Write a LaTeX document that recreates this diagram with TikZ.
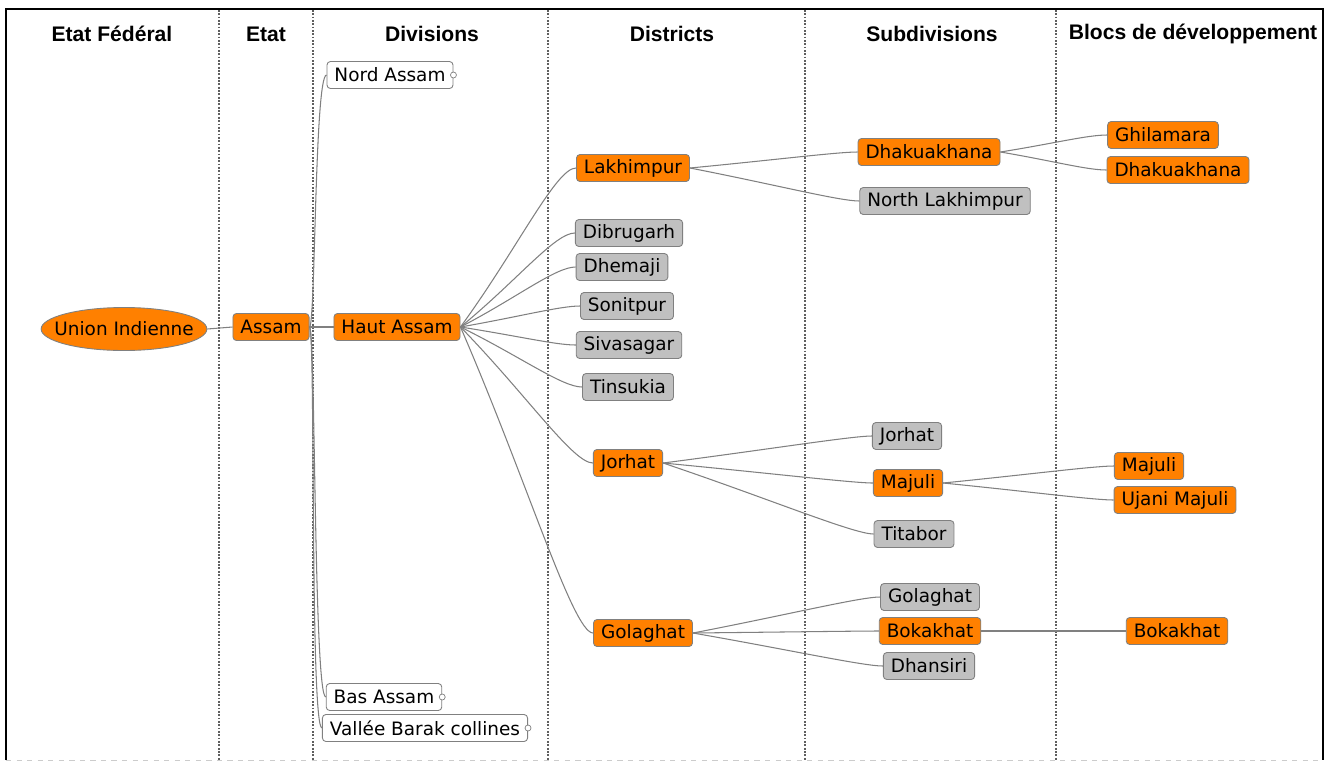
\documentclass[tikz,border=0pt]{standalone}
\usepackage{fontspec}
\setmainfont{DejaVu Sans}
\newfontfamily\headfont{Liberation Sans}
\usetikzlibrary{shapes.geometric,calc}

\definecolor{mmorange}{RGB}{255,128,0}
\definecolor{mmgray}{RGB}{192,192,192}
\definecolor{linkgray}{RGB}{128,128,128}
\definecolor{sepgray}{RGB}{95,95,95}

\tikzset{
  box/.style={draw=linkgray, line width=0.5pt, rounded corners=2pt, minimum height=0.54cm,
    inner xsep=0.15cm, inner ysep=0pt, text=black, font=\fontsize{10.5}{12}\selectfont},
  hot/.style={box, fill=mmorange},
  cold/.style={box, fill=mmgray},
  blank/.style={box, fill=white},
  head/.style={font=\headfont\bfseries\fontsize{12}{14}\selectfont},
  link/.style={draw=linkgray, line width=0.6pt},
  branch/.style={to path={.. controls ($(\tikztostart)!0.5!(\tikztotarget)$) and ($(\tikztotarget)+(-20,0)$) .. (\tikztotarget)}},
  rise/.style={to path={.. controls +(6,0) and +(-12,0) .. (\tikztotarget)}},
  fold/.style={draw=linkgray, fill=white, line width=0.4pt},
  colsep/.style={draw=sepgray, line width=1.2pt, dash pattern=on 1pt off 0.9pt}
}

\begin{document}
\begin{tikzpicture}[x=0.02cm, y=-0.02cm]
\useasboundingbox (0,0) rectangle (1327,761);

% frame and column separators
\draw[line width=1.2pt] (6,760) -- (6,9) -- (1323,9) -- (1323,760);
\draw[gray!40, dashed, line width=0.4pt] (6,760) -- (1323,760);
\draw[colsep] (219,10) -- (219,760);
\draw[colsep] (313,10) -- (313,760);
\draw[colsep] (548,10) -- (548,760);
\draw[colsep] (805,10) -- (805,760);
\draw[colsep] (1056,10) -- (1056,760);

% column titles
\node[head] (hfed) at (112,34) {Etat Fédéral};
\node[head] (hetat) at (266,34) {Etat};
\node[head] (hdiv) at (432,34) {Divisions};
\node[head] (hdist) at (672,34) {Districts};
\node[head] (hsub) at (932,34) {Subdivisions};
\node[head] (hbloc) at (1193,34) {Blocs de développement};

% state and divisions
\node[ellipse, draw=linkgray, fill=mmorange, line width=0.5pt, inner xsep=-0.22cm, inner ysep=0pt,
  minimum height=0.86cm, font=\fontsize{10.5}{12}\selectfont] (uni) at (124,329) {Union Indienne};
\node[hot] (assam) at (271,327) {Assam};
\node[blank] (nord) at (390,75) {Nord Assam};
\node[hot] (haut) at (397,327) {Haut Assam};
\node[blank] (bas) at (384,697) {Bas Assam};
\node[blank] (barak) at (425,728) {Vallée Barak collines};
\draw[fold] (nord.east) circle (0.06cm);
\draw[fold] (bas.east) circle (0.06cm);
\draw[fold] (barak.east) circle (0.06cm);

% districts
\node[hot] (lak) at (633,168) {Lakhimpur};
\node[cold] (dib) at (629,233) {Dibrugarh};
\node[cold] (dhe) at (622,267) {Dhemaji};
\node[cold] (son) at (627,306) {Sonitpur};
\node[cold] (siv) at (629,345) {Sivasagar};
\node[cold] (tin) at (628,387) {Tinsukia};
\node[hot] (jor) at (628,463) {Jorhat};
\node[hot] (gol) at (643,633) {Golaghat};

% subdivisions
\node[hot] (dhak) at (929,152) {Dhakuakhana};
\node[cold] (nlak) at (945,201) {North Lakhimpur};
\node[cold] (jors) at (907,436) {Jorhat};
\node[hot] (maj) at (908,483) {Majuli};
\node[cold] (tit) at (914,534) {Titabor};
\node[cold] (gols) at (930,597) {Golaghat};
\node[hot] (bok) at (930,631) {Bokakhat};
\node[cold] (dhan) at (929,666) {Dhansiri};

% development blocks
\node[hot] (ghil) at (1163,135) {Ghilamara};
\node[hot] (dhakb) at (1178,170) {Dhakuakhana};
\node[hot] (majb) at (1149,466) {Majuli};
\node[hot] (uja) at (1175,500) {Ujani Majuli};
\node[hot] (bokb) at (1177,631) {Bokakhat};

% links
\draw[link] (uni.east) -- (assam.west);
\draw[link] (assam.east) to[rise] (nord.west);
\draw[link] (assam.east) -- (haut.west);
\draw[link] (assam.east) to[rise] (bas.west);
\draw[link] (assam.east) to[rise] (barak.west);

\draw[link] (haut.east) to[branch] (lak.west);
\draw[link] (haut.east) to[branch] (dib.west);
\draw[link] (haut.east) to[branch] (dhe.west);
\draw[link] (haut.east) to[branch] (son.west);
\draw[link] (haut.east) to[branch] (siv.west);
\draw[link] (haut.east) to[branch] (tin.west);
\draw[link] (haut.east) to[branch] (jor.west);
\draw[link] (haut.east) to[branch] (gol.west);

\draw[link] (lak.east) to[branch] (dhak.west);
\draw[link] (lak.east) to[branch] (nlak.west);
\draw[link] (dhak.east) to[branch] (ghil.west);
\draw[link] (dhak.east) to[branch] (dhakb.west);

\draw[link] (jor.east) to[branch] (jors.west);
\draw[link] (jor.east) to[branch] (maj.west);
\draw[link] (jor.east) to[branch] (tit.west);
\draw[link] (maj.east) to[branch] (majb.west);
\draw[link] (maj.east) to[branch] (uja.west);

\draw[link] (gol.east) to[branch] (gols.west);
\draw[link] (gol.east) to[branch] (bok.west);
\draw[link] (gol.east) to[branch] (dhan.west);
\draw[link] (bok.east) -- (bokb.west);

\end{tikzpicture}
\end{document}
